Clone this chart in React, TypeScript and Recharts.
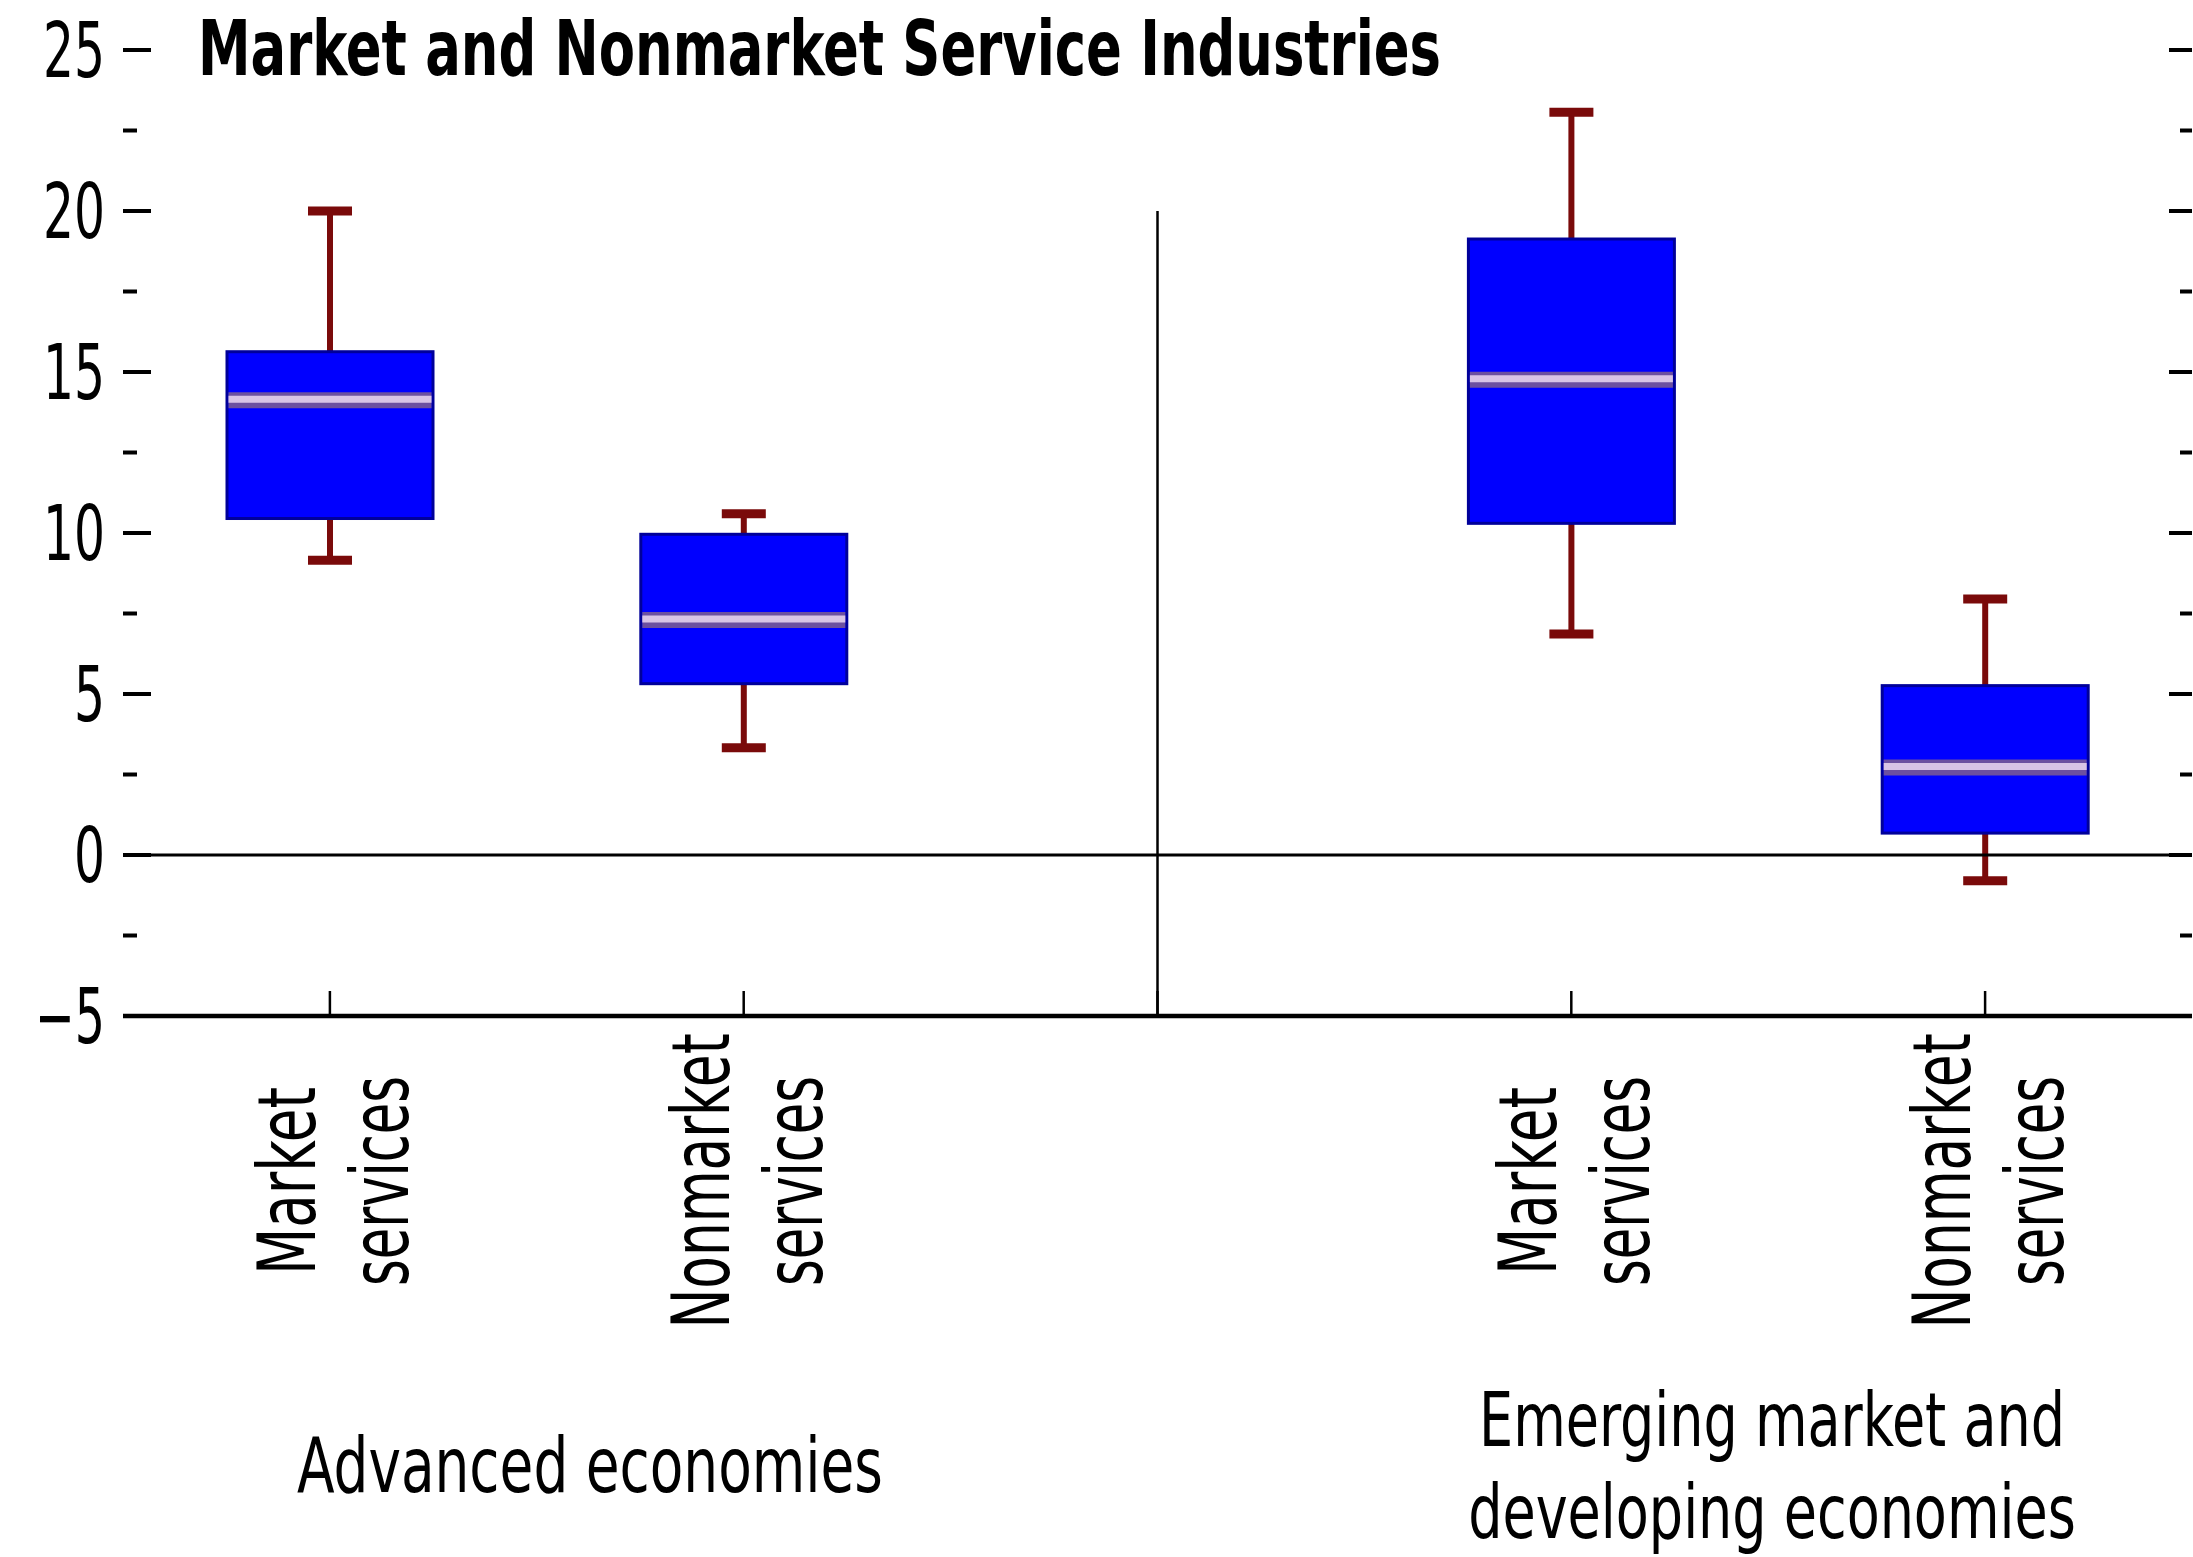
import { ComposedChart, Bar, XAxis, YAxis, ReferenceLine } from "recharts";

const FONT = "'Liberation Sans Narrow', 'Arial Narrow', 'DejaVu Sans Condensed', sans-serif";

const categories = ["adv-market", "adv-nonmarket", "gap", "em-market", "em-nonmarket"];
const tickLabels = [
  ["Market", "services"],
  ["Nonmarket", "services"],
  [],
  ["Market", "services"],
  ["Nonmarket", "services"],
];
const whiskerLow = [9.15, 3.33, null, 6.86, -0.8];
const boxLow = [10.45, 5.32, null, 10.3, 0.68];
const median = [14.12, 7.3, null, 14.76, 2.72];
const boxHigh = [15.63, 9.96, null, 19.13, 5.26];
const whiskerHigh = [20.0, 10.6, null, 23.07, 7.95];
const yTicks = [-5, -2.5, 0, 2.5, 5, 7.5, 10, 12.5, 15, 17.5, 20, 22.5, 25];

const data = categories.map((cat, i) => ({
  cat,
  whisker: whiskerLow[i] == null ? null : [whiskerLow[i], whiskerHigh[i]],
  box: boxLow[i] == null ? null : [boxLow[i], boxHigh[i]],
  median: median[i],
}));

// pixel lengths of the squeezed label text in the original
const labelLength: Record<string, number> = { Market: 188, Nonmarket: 295, services: 210 };

const WHISKER = "#7a0a0a";

function Whisker(props: any) {
  const { x, y, width, height } = props;
  if (width == null || height == null) return null;
  const top = Math.min(y, y + height);
  const bottom = Math.max(y, y + height);
  const cx = x + width / 2;
  return (
    <g>
      <line x1={cx} x2={cx} y1={top} y2={bottom} stroke={WHISKER} strokeWidth={6} />
      <line x1={cx - 22} x2={cx + 22} y1={top} y2={top} stroke={WHISKER} strokeWidth={9} />
      <line x1={cx - 22} x2={cx + 22} y1={bottom} y2={bottom} stroke={WHISKER} strokeWidth={9} />
    </g>
  );
}

function Box(props: any) {
  const { x, y, width, height, payload } = props;
  if (width == null || height == null || !payload.box) return null;
  const top = Math.min(y, y + height);
  const h = Math.abs(height);
  const [lo, hi] = payload.box;
  const my = top + (h * (hi - payload.median)) / (hi - lo);
  return (
    <g>
      <rect x={x} y={top} width={width} height={h} fill="#0000ff" stroke="#00009a" strokeWidth={3} />
      <line x1={x + 1.5} x2={x + width - 1.5} y1={my} y2={my} stroke="#6c50a0" strokeWidth={16} />
      <line x1={x + 1.5} x2={x + width - 1.5} y1={my - 1} y2={my - 1} stroke="#d8c4e6" strokeWidth={7} />
    </g>
  );
}

function fmt(v: number) {
  return v < 0 ? `\u2212${-v}` : `${v}`;
}

function LeftTick({ x, y, payload }: any) {
  const v = payload.value;
  const major = v % 5 === 0;
  const label = fmt(v);
  const len = label.length === 1 ? 31 : v < 0 ? 70 : 62;
  return (
    <g>
      <line x1={x + 18} x2={x + 18 + (major ? 28 : 14)} y1={y} y2={y} stroke="#000" strokeWidth={4} />
      {major && (
        <text
          x={x - len}
          y={y}
          dy={27}
          fontFamily={FONT}
          fontSize={76}
          fill="#000"
          textLength={len}
          lengthAdjust="spacingAndGlyphs"
        >
          {label}
        </text>
      )}
    </g>
  );
}

function RightTick({ x, y, payload }: any) {
  const major = payload.value % 5 === 0;
  return <line x1={x - (major ? 23 : 12)} x2={x} y1={y} y2={y} stroke="#000" strokeWidth={4} />;
}

function CategoryTick({ x, y, payload }: any) {
  const lines = tickLabels[categories.indexOf(payload.value)] || [];
  return (
    <g>
      <line x1={x} x2={x} y1={y} y2={y - 25} stroke="#000" strokeWidth={2.5} />
      {lines.map((t, k) => (
        <text
          key={k}
          transform={`translate(${x + (k === 0 ? -15 : 78)}, ${y + 165}) rotate(-90)`}
          textAnchor="middle"
          fontFamily={FONT}
          fontSize={80}
          fill="#000"
          textLength={labelLength[t]}
          lengthAdjust="spacingAndGlyphs"
        >
          {t}
        </text>
      ))}
    </g>
  );
}

export default function App() {
  return (
    <div style={{ position: "absolute", left: 0, top: 0, width: 2193, height: 1557, background: "#fff", fontFamily: FONT }}>
      <ComposedChart width={2193} height={1557} data={data} margin={{ top: 50, right: 0, bottom: 0, left: 0 }}>
        <XAxis
          dataKey="cat"
          type="category"
          height={541}
          axisLine={{ stroke: "#000", strokeWidth: 4.5 }}
          tickLine={false}
          tickSize={0}
          tickMargin={0}
          interval={0}
          tick={<CategoryTick />}
        />
        <XAxis dataKey="cat" type="category" xAxisId="w" hide />
        <YAxis
          domain={[-5, 25]}
          ticks={yTicks}
          interval={0}
          width={123}
          axisLine={false}
          tickLine={false}
          tickSize={0}
          tickMargin={18}
          tick={<LeftTick />}
        />
        <YAxis
          yAxisId="r"
          orientation="right"
          domain={[-5, 25]}
          ticks={yTicks}
          interval={0}
          width={1}
          axisLine={false}
          tickLine={false}
          tickSize={0}
          tickMargin={0}
          tick={<RightTick />}
        />
        <ReferenceLine y={0} stroke="#000" strokeWidth={3} />
        <ReferenceLine
          segment={[
            { x: "gap", y: -5 },
            { x: "gap", y: 20 },
          ]}
          stroke="#000"
          strokeWidth={2.5}
        />
        <Bar dataKey="whisker" xAxisId="w" yAxisId="r" barSize={206} shape={<Whisker />} isAnimationActive={false} />
        <Bar dataKey="box" barSize={206} shape={<Box />} isAnimationActive={false} />
      </ComposedChart>
      <svg width={2193} height={1557} style={{ position: "absolute", left: 0, top: 0, pointerEvents: "none" }}>
        <text x={198} y={75} fontFamily={FONT} fontWeight="bold" fontSize={76} textLength={1243} lengthAdjust="spacingAndGlyphs" fill="#000">
          Market and Nonmarket Service Industries
        </text>
        <text x={590} y={1492} textAnchor="middle" fontFamily={FONT} fontSize={77} textLength={586} lengthAdjust="spacingAndGlyphs" fill="#000">
          Advanced economies
        </text>
        <g transform="translate(1772, 0) scale(0.8, 1)">
          <text x={0} y={1446} textAnchor="middle" fontFamily={FONT} fontSize={75} fill="#000">
            Emerging market and
          </text>
          <text x={0} y={1538} textAnchor="middle" fontFamily={FONT} fontSize={75} fill="#000">
            developing economies
          </text>
        </g>
      </svg>
    </div>
  );
}
